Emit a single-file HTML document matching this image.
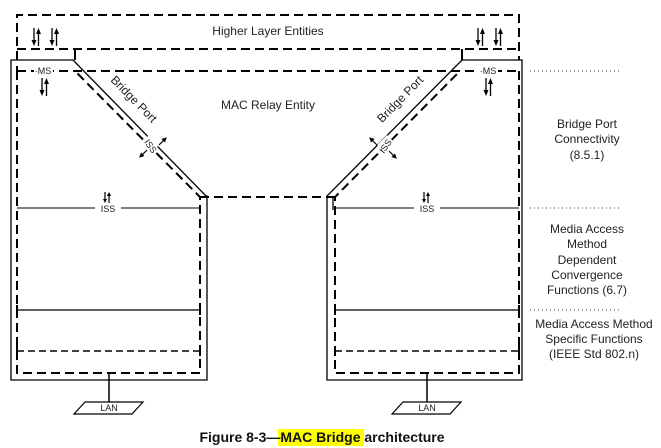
<!DOCTYPE html>
<html><head><meta charset="utf-8"><style>
html,body{margin:0;padding:0;background:#fff;}
svg{display:block;font-family:"Liberation Sans",Arial,sans-serif;}
</style></head><body>
<svg width="661" height="448" viewBox="0 0 661 448" xmlns="http://www.w3.org/2000/svg">
<defs>
<g id="ap">
 <line x1="0" y1="0" x2="0" y2="15" stroke="#000" stroke-width="1.3"/>
 <path d="M-2.5,12 L0,18 L2.5,12 Z" fill="#000"/>
 <line x1="4.5" y1="18" x2="4.5" y2="3" stroke="#000" stroke-width="1.3"/>
 <path d="M2,6 L4.5,0 L7,6 Z" fill="#000"/>
</g>
<g id="sap">
 <line x1="0" y1="0" x2="0" y2="9" stroke="#000" stroke-width="1.2"/>
 <path d="M-2,7 L0,11 L2,7 Z" fill="#000"/>
 <line x1="4" y1="11" x2="4" y2="2" stroke="#000" stroke-width="1.2"/>
 <path d="M2,4 L4,0 L6,4 Z" fill="#000"/>
</g>
<g id="sa">
 <line x1="0" y1="0" x2="0" y2="-8" stroke="#000" stroke-width="1.2"/>
 <path d="M-2.5,-6 L0,-11 L2.5,-6 Z" fill="#000"/>
</g>
</defs>
<g fill="none" stroke="#000">
 <path d="M17,60 V15 H519 V60" stroke-width="2" stroke-dasharray="9,5"/>
 <line x1="17" y1="49" x2="519" y2="49" stroke-width="2" stroke-dasharray="9,5"/>
 <line x1="75" y1="49" x2="75" y2="60" stroke-width="2"/>
 <line x1="462" y1="49" x2="462" y2="60" stroke-width="2"/>
 <path d="M11,380 V60 H73 L206,196 H207 V380 Z" stroke-width="1.3"/>
 <path d="M522,380 V60 H462 L327,196 V380 Z" stroke-width="1.3"/>
 <line x1="333" y1="196" x2="333" y2="210" stroke-width="1.3"/>
 <line x1="17" y1="71" x2="519" y2="71" stroke-width="2" stroke-dasharray="9,5"/>
 <line x1="17" y1="66" x2="17" y2="76" stroke-width="2"/>
 <path d="M17,71 V373 H200 V197 L75,71" stroke-width="2" stroke-dasharray="9,5"/>
 <path d="M519,71 V373 H335 V197 L460,71" stroke-width="2" stroke-dasharray="9,5"/>
 <line x1="200" y1="197" x2="335" y2="197" stroke-width="2" stroke-dasharray="9,5"/>
 <line x1="17" y1="208" x2="95" y2="208" stroke-width="1"/>
 <line x1="121" y1="208" x2="200" y2="208" stroke-width="1"/>
 <line x1="335" y1="208" x2="414" y2="208" stroke-width="1"/>
 <line x1="440" y1="208" x2="519" y2="208" stroke-width="1"/>
 <line x1="17" y1="310" x2="200" y2="310" stroke-width="1.3"/>
 <line x1="335" y1="310" x2="519" y2="310" stroke-width="1.3"/>
 <line x1="17" y1="305" x2="17" y2="315" stroke-width="2"/><line x1="200" y1="305" x2="200" y2="315" stroke-width="2"/>
 <line x1="335" y1="305" x2="335" y2="315" stroke-width="2"/><line x1="519" y1="305" x2="519" y2="315" stroke-width="2"/>
 <line x1="17" y1="351" x2="200" y2="351" stroke-width="1.5" stroke-dasharray="7,4"/>
 <line x1="335" y1="351" x2="519" y2="351" stroke-width="1.5" stroke-dasharray="7,4"/>
 <line x1="17" y1="346" x2="17" y2="356" stroke-width="2"/><line x1="200" y1="346" x2="200" y2="356" stroke-width="2"/>
 <line x1="335" y1="346" x2="335" y2="356" stroke-width="2"/><line x1="519" y1="346" x2="519" y2="356" stroke-width="2"/>
 <line x1="109" y1="373" x2="109" y2="402" stroke-width="1.5"/>
 <line x1="427" y1="373" x2="427" y2="402" stroke-width="1.5"/>
 <path d="M85,402 H143 L132,414 H74 Z" stroke-width="1.2"/>
 <path d="M403,402 H461 L450,414 H392 Z" stroke-width="1.2"/>
 <g stroke="#444" stroke-width="1" stroke-dasharray="1,3">
  <line x1="530" y1="71" x2="620" y2="71"/>
  <line x1="530" y1="208" x2="620" y2="208"/>
  <line x1="530" y1="310" x2="620" y2="310"/>
 </g>
</g>
<rect x="34" y="65" width="19" height="11" fill="#fff"/>
<rect x="479" y="65" width="19" height="11" fill="#fff"/>
<rect x="142" y="138" width="14" height="14" fill="#fff" transform="rotate(45 149 145)"/>
<rect x="380" y="138" width="14" height="14" fill="#fff" transform="rotate(-45 387 145)"/>
<g fill="#222" font-size="9" text-anchor="middle">
 <text x="43" y="74">·MS</text>
 <text x="488" y="74">·MS</text>
 <text x="108" y="212">ISS</text>
 <text x="427" y="212">ISS</text>
 <text x="109" y="411">LAN</text>
 <text x="427" y="411">LAN</text>
 <text x="0" y="0" transform="translate(148,148) rotate(55)">ISS</text>
 <text x="0" y="0" transform="translate(388,148) rotate(-55)">ISS</text>
</g>
<use href="#sa" transform="translate(159,145) rotate(45)"/>
<use href="#sa" transform="translate(147,150) rotate(225)"/>
<use href="#sa" transform="translate(377,145) rotate(-45)"/>
<use href="#sa" transform="translate(389,151) rotate(135)"/>
<use href="#ap" x="34" y="28"/>
<use href="#ap" x="52" y="28"/>
<use href="#ap" x="478" y="28"/>
<use href="#ap" x="496" y="28"/>
<use href="#ap" x="42" y="78"/>
<use href="#ap" x="486" y="78"/>
<use href="#sap" x="105" y="192"/>
<use href="#sap" x="424" y="192"/>
<g fill="#222" font-size="12" text-anchor="middle">
 <text x="268" y="35">Higher Layer Entities</text>
 <text x="268" y="109">MAC Relay Entity</text>
 <text transform="translate(131,102) rotate(45.5)">Bridge Port</text>
 <text transform="translate(403,102) rotate(-45.5)">Bridge Port</text>
 <text x="587" y="128">Bridge Port</text>
 <text x="587" y="143">Connectivity</text>
 <text x="587" y="159">(8.5.1)</text>
 <text x="587" y="233">Media Access</text>
 <text x="587" y="248">Method</text>
 <text x="587" y="264">Dependent</text>
 <text x="587" y="279">Convergence</text>
 <text x="587" y="294">Functions (6.7)</text>
 <text x="594" y="328">Media Access Method</text>
 <text x="594" y="343">Specific Functions</text>
 <text x="594" y="358">(IEEE Std 802.n)</text>
</g>
<rect x="278" y="429" width="86" height="17" fill="#ffff00"/>
<text x="322" y="442" font-size="14" font-weight="bold" text-anchor="middle" fill="#111">Figure 8-3—MAC Bridge architecture</text>
</svg>
</body></html>
